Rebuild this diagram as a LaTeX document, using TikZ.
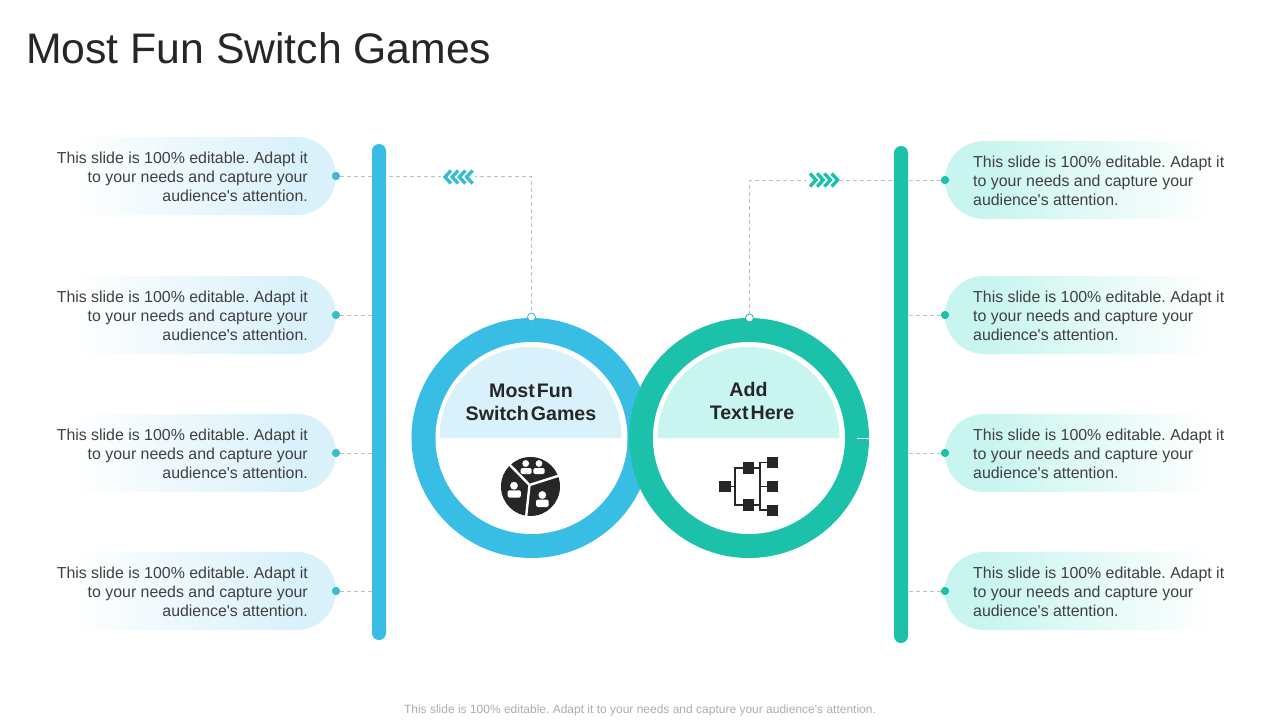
\documentclass[tikz,border=0pt]{standalone}
\usepackage{fontspec}
\setmainfont{Liberation Sans}
\usetikzlibrary{shapes.misc,calc}
\definecolor{ringB}{RGB}{56,190,228}
\definecolor{ringG}{RGB}{28,193,170}
\definecolor{paleB}{RGB}{217,241,250}
\definecolor{paleG}{RGB}{200,245,239}
\definecolor{endB}{RGB}{217,241,250}
\definecolor{endG}{RGB}{200,245,239}
\definecolor{chevB}{RGB}{58,188,207}
\definecolor{ink}{RGB}{38,38,38}
\definecolor{body}{RGB}{64,64,64}
\definecolor{dashc}{RGB}{190,190,190}
\pgfdeclarehorizontalshading{fadeL}{100bp}{color(0bp)=(white); color(29bp)=(white); color(68bp)=(endB); color(100bp)=(endB)}
\pgfdeclarehorizontalshading{fadeR}{100bp}{color(0bp)=(endG); color(32bp)=(endG); color(71bp)=(white); color(100bp)=(white)}
\newcommand{\tsp}{\hspace{2pt}}
\newcommand{\slidetxt}{This slide is 100\% editable. Adapt it\\to your needs and capture your\\audience\textquotesingle s attention.}
\tikzset{
 pillbase/.style={rounded rectangle,minimum width=290pt,minimum height=78pt,inner sep=0pt,draw=none},
 pillL/.style={pillbase,shading=fadeL,shading angle=0},
 pillR/.style={pillbase,shading=fadeR,shading angle=0},
 bodytext/.style={font=\fontsize{15.9}{19}\selectfont\frenchspacing,text=body,inner sep=0pt},
 textL/.style={bodytext,align=right,anchor=east},
 textR/.style={bodytext,align=left,anchor=west},
 dotL/.style={circle,fill=chevB,minimum size=8pt,inner sep=0pt},
 dotR/.style={circle,fill=ringG,minimum size=8pt,inner sep=0pt},
 lead/.style={draw=dashc,line width=0.8pt,dash pattern=on 4pt off 3pt},
 ctitle/.style={font=\fontsize{19.6}{23}\selectfont\bfseries,text=ink,align=center,inner sep=0pt},
 port/.style={circle,draw=#1,fill=white,line width=0.8pt,minimum size=8pt,inner sep=0pt},
 chev/.style={draw=#1,line width=3.4pt,line cap=butt,line join=miter},
 iconline/.style={draw=ink,line width=1.6pt}
}
\begin{document}
\begin{tikzpicture}[x=1pt,y=-1pt]
\useasboundingbox (0,0) rectangle (1280,720);
\fill[white] (0,0) rectangle (1280,720);
\node[font=\fontsize{42.7}{50}\selectfont,text=ink,anchor=west,inner sep=0pt] (title) at (26,48) {Most Fun Switch Games};
% pills
\foreach \n/\y in {1/176,2/315,3/453,4/591}{
  \node[pillL] (pl\n) at (191,\y) {};
  \node[textL] (tl\n) at (308,\y.5) {\slidetxt};
  \node[dotL] (dl\n) at (336,\y) {};
}
\foreach \n/\y in {1/180,2/315,3/453,4/591}{
  \node[pillR] (pr\n) at (1090,\y) {};
  \node[textR] (tr\n) at (973,\y.5) {\slidetxt};
  \node[dotR] (dr\n) at (945,\y) {};
}
% rings
\node[circle,fill=ringB,minimum size=240pt,inner sep=0pt] (ringL) at (531.5,438) {};
\node[circle,fill=white,minimum size=192pt,inner sep=0pt] (holeL) at (531.5,438) {};
\node[circle,fill=ringG,minimum size=240pt,inner sep=0pt] (ringR) at (749,438) {};
\node[circle,fill=white,minimum size=192pt,inner sep=0pt] (holeR) at (749,438) {};
\fill[paleB] (439.5,438) arc[start angle=180,end angle=0,radius=91pt] -- cycle;
\fill[paleG] (657.5,438) arc[start angle=180,end angle=0,radius=91pt] -- cycle;
\draw[white,line width=0.6pt] (857,438) -- (869,438);
% ports
\node[port=ringB!70!gray] (pa) at (531.5,317) {};
\node[port=ringG!70!gray] (pb) at (749.5,318) {};
% leaders
\coordinate (cl) at (pa |- dl1);
\coordinate (cr) at (pb |- dr1);
\draw[lead] (dl1) -- (cl) -- (pa);
\draw[lead] (dr1) -- (cr) -- (pb);
\foreach \n in {2,3,4}{
  \path (dl\n) ++(36,0) coordinate (bl\n);
  \path (dr\n) ++(-37,0) coordinate (br\n);
  \draw[lead] (dl\n) -- (bl\n);
  \draw[lead] (dr\n) -- (br\n);
}
\foreach \n in {1,2,3,4}{\node[dotL] at (dl\n) {}; \node[dotR] at (dr\n) {};}
% bars
\fill[ringB] (372,151) arc[start angle=180,end angle=0,radius=7pt] -- (386,633) arc[start angle=0,end angle=-180,radius=7pt] -- cycle;
\fill[ringG] (894,153) arc[start angle=180,end angle=0,radius=7pt] -- (908,636) arc[start angle=0,end angle=-180,radius=7pt] -- cycle;
% chevrons
\fill[white] (441,170) rectangle (475,184);
\fill[white] (806,173) rectangle (840,187);
\foreach \i in {0,1,2,3}{
  \draw[chev=chevB] ({451+\i*7.2},170.5) -- ({445+\i*7.2},177) -- ({451+\i*7.2},183.5);
  \draw[chev=ringG] ({810+\i*7.2},173.5) -- ({816+\i*7.2},180) -- ({810+\i*7.2},186.5);
}
% centre texts
\node[ctitle] (ca) at (531,402) {Most\tsp Fun\\Switch\tsp Games};
\node[ctitle] (cb) at (752,401) {Add\hspace*{7pt}\\Text\tsp Here};
% pie icon
\fill[ink] (530.5,486.5) circle[radius=29.5pt];
\draw[white,line width=2.4pt] (509,464) -- (529.5,485) -- (561,475);
\draw[white,line width=2.4pt] (529.5,485) -- (526,518);
\foreach \hx/\hy/\r/\ax/\ay/\bx/\by in {525.7/463.5/3.4/520.5/468/531.5/474, 539/463.5/3.4/533.3/468/544.5/474, 514/485.7/3.9/507.5/490.3/520.8/497.5, 542.3/495/3.9/536/499.5/548.5/507}{
  \fill[white] (\hx,\hy) circle[radius=\r pt];
  \fill[white,rounded corners=1.5pt] (\ax,\ay) rectangle (\bx,\by);
}
% tree icon
\draw[iconline] (730,486.5) -- (735,486.5);
\draw[iconline] (754,468) -- (735,468) -- (735,505) -- (754,505);
\draw[iconline] (767,462.5) -- (760,462.5) -- (760,510) -- (767,510);
\draw[iconline] (754,468) -- (760,468);
\draw[iconline] (754,505) -- (760,505);
\draw[iconline] (760,486.5) -- (767,486.5);
\foreach \x/\y in {725/486.3,748.6/468,748.6/505,772.3/462.7,772.3/486.3,772.3/510.3}{
  \fill[ink] ($(\x,\y)+(-5.7,-5.7)$) rectangle ($(\x,\y)+(5.7,5.7)$);
}
\node[font=\fontsize{12}{14}\selectfont\frenchspacing,text=black!32,inner sep=0pt] (foot) at (640,710) {This slide is 100\% editable. Adapt it to your needs and capture your audience\textquotesingle s attention.};
\end{tikzpicture}
\end{document}
